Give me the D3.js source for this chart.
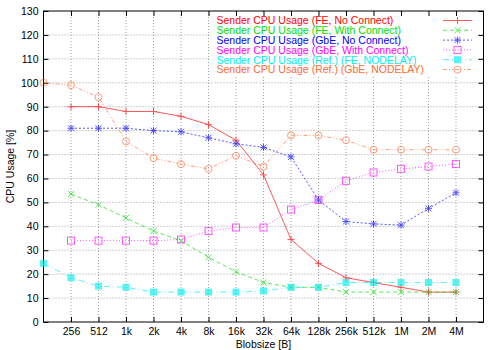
<!DOCTYPE html>
<html lang="en">
<head>
    <meta charset="UTF-8">
    <title>Sender CPU Usage</title>
    <script src="https://cdn.jsdelivr.net/npm/d3@7"></script>
    <style>
        body { margin: 0; background: #fff; }
        text { font-family: Arial, Helvetica, sans-serif; font-size: 10.5px; }
        .grid line { stroke: #a0a0a0; stroke-width: 1; stroke-dasharray: 1,2; }
    </style>
</head>
<body>
<div id="d3"></div>
<script>
    // blob sizes (x) and tick labels
    var blobsizes = [128, 256, 512, 1024, 2048, 4096, 8192, 16384, 32768, 65536,
                     131072, 262144, 524288, 1048576, 2097152, 4194304];
    var tickValues = [256, 512, 1024, 2048, 4096, 8192, 16384, 32768, 65536,
                      131072, 262144, 524288, 1048576, 2097152, 4194304];
    var tickLabels = ["256", "512", "1k", "2k", "4k", "8k", "16k", "32k", "64k",
                      "128k", "256k", "512k", "1M", "2M", "4M"];
    var yTicks = [0, 10, 20, 30, 40, 50, 60, 70, 80, 90, 100, 110, 120, 130];

    // series values (null = no point)
    var feNoConnect    = [null, 90, 90, 88, 88, 86, 82.5, 76, 61.5, 34.5, 24.5, 18.5, 16.5, 14.5, 12.5, 12.5];
    var feWithConnect  = [null, 53.5, 49, 43.5, 38, 34, 27, 21, 16.5, 14.5, 14.5, 12.5, 12.5, 12.5, 12.5, 12.5];
    var gbeNoConnect   = [null, 81, 81, 81, 80, 79.5, 77, 74.5, 73, 69, 51, 42, 41, 40.5, 47.5, 54];
    var gbeWithConnect = [null, 34, 34, 34, 34, 34.5, 38, 39.5, 39.5, 47, 51, 59, 62.5, 64, 65, 66];
    var refFe          = [24.5, 18.5, 15, 14.5, 12.5, 12.5, 12.5, 12.5, 13, 14.5, 14.5, 16.5, 16.5, 16.5, 16.5, 16.5];
    var refGbe         = [100, 99, 94, 75.5, 68.5, 66, 64, 69.5, 65, 78, 78, 76, 72, 72, 72, 72];

    var series = [
        {name: "Sender CPU Usage (FE, No Connect)", values: feNoConnect, color: "#ff0000", dash: null, marker: "plus"},
        {name: "Sender CPU Usage (FE, With Connect)", values: feWithConnect, color: "#00e000", dash: "4,3", marker: "cross"},
        {name: "Sender CPU Usage (GbE, No Connect)", values: gbeNoConnect, color: "#0000ff", dash: "2,2", marker: "star"},
        {name: "Sender CPU Usage (GbE, With Connect)", values: gbeWithConnect, color: "#ff00ff", dash: "1,2", marker: "square"},
        {name: "Sender CPU Usage (Ref.) (FE, NODELAY)", values: refFe, color: "#00eeee", dash: "6,3,1,3", marker: "fsquare"},
        {name: "Sender CPU Usage (Ref.) (GbE, NODELAY)", values: refGbe, color: "#ff6a30", dash: "4,2,1,2,1,2", marker: "circle"}
    ];

    var width = 500, height = 350;
    var pLeft = 43.5, pRight = 483.5, pTop = 11, pBottom = 322;

    var x = d3.scaleLog().base(2).domain([128, 8388608]).range([pLeft, pRight]);
    var y = d3.scaleLinear().domain([0, 130]).range([pBottom, pTop]);

    var svg = d3.select("#d3").append("svg")
        .attr("width", width).attr("height", height);

    // grid
    var grid = svg.append("g").attr("class", "grid");
    grid.selectAll(".gy").data(yTicks.slice(1, -1)).enter().append("line")
        .attr("x1", pLeft).attr("x2", pRight)
        .attr("y1", function (d) { return y(d); }).attr("y2", function (d) { return y(d); });
    grid.selectAll(".gx").data(tickValues).enter().append("line")
        .attr("y1", pTop).attr("y2", pBottom)
        .attr("x1", function (d) { return x(d); }).attr("x2", function (d) { return x(d); });

    // legend background hides grid
    svg.append("rect").attr("x", 210).attr("y", pTop + 1).attr("width", 266).attr("height", 63).attr("fill", "#fff");

    // axes (ticks inside, mirrored)
    var axB = d3.axisBottom(x).tickValues(tickValues).tickSizeInner(-5).tickSizeOuter(0).tickPadding(6)
        .tickFormat(function (d, i) { return tickLabels[i]; });
    var axT = d3.axisTop(x).tickValues(tickValues).tickSizeInner(-5).tickSizeOuter(0).tickFormat("");
    var axL = d3.axisLeft(y).tickValues(yTicks).tickSizeInner(-5).tickSizeOuter(0).tickPadding(5);
    var axR = d3.axisRight(y).tickValues(yTicks).tickSizeInner(-5).tickSizeOuter(0).tickFormat("");

    [[axB, "translate(0," + pBottom + ")"], [axT, "translate(0," + pTop + ")"],
     [axL, "translate(" + pLeft + ",0)"], [axR, "translate(" + pRight + ",0)"]].forEach(function (a) {
        var g = svg.append("g").attr("transform", a[1]).call(a[0]);
        g.select(".domain").remove();
        g.selectAll("line").attr("stroke", "#000");
        g.selectAll("text").attr("fill", "#000").style("font-size", "10.5px")
            .style("font-family", "Arial, Helvetica, sans-serif");
    });

    svg.append("rect").attr("x", pLeft).attr("y", pTop).attr("width", pRight - pLeft).attr("height", pBottom - pTop)
        .attr("fill", "none").attr("stroke", "#000").attr("stroke-width", 1);

    svg.append("text").attr("x", (pLeft + pRight) / 2).attr("y", 348).attr("text-anchor", "middle").text("Blobsize [B]");
    svg.append("text").attr("transform", "translate(14," + ((pTop + pBottom) / 2) + ") rotate(-90)")
        .attr("text-anchor", "middle").text("CPU Usage [%]");

    // marker drawing
    function marker(g, type, cx, cy, color) {
        if (type === "plus") {
            g.append("path").attr("d", "M" + (cx - 3.5) + "," + cy + "H" + (cx + 3.5) + "M" + cx + "," + (cy - 3.5) + "V" + (cy + 3.5))
                .attr("stroke", color).attr("fill", "none");
        } else if (type === "cross") {
            g.append("path").attr("d", "M" + (cx - 3) + "," + (cy - 3) + "L" + (cx + 3) + "," + (cy + 3) +
                "M" + (cx - 3) + "," + (cy + 3) + "L" + (cx + 3) + "," + (cy - 3))
                .attr("stroke", color).attr("fill", "none");
        } else if (type === "star") {
            g.append("path").attr("d", "M" + (cx - 3) + "," + (cy - 3) + "L" + (cx + 3) + "," + (cy + 3) +
                "M" + (cx - 3) + "," + (cy + 3) + "L" + (cx + 3) + "," + (cy - 3) +
                "M" + (cx - 3.5) + "," + cy + "H" + (cx + 3.5) + "M" + cx + "," + (cy - 3.5) + "V" + (cy + 3.5))
                .attr("stroke", color).attr("fill", "none");
        } else if (type === "square") {
            g.append("rect").attr("x", cx - 3.5).attr("y", cy - 3.5).attr("width", 7).attr("height", 7)
                .attr("stroke", color).attr("fill", "none");
        } else if (type === "fsquare") {
            g.append("rect").attr("x", cx - 3.5).attr("y", cy - 3.5).attr("width", 7).attr("height", 7)
                .attr("fill", color);
        } else if (type === "circle") {
            g.append("circle").attr("cx", cx).attr("cy", cy).attr("r", 3.5)
                .attr("stroke", color).attr("fill", "none");
        }
    }

    var line = d3.line()
        .defined(function (d) { return d[1] != null; })
        .x(function (d) { return x(d[0]); })
        .y(function (d) { return y(d[1]); });

    series.forEach(function (s, k) {
        var pts = blobsizes.map(function (b, i) { return [b, s.values[i]]; });
        var g = svg.append("g").attr("opacity", 0.65);
        g.append("path").datum(pts).attr("d", line)
            .attr("fill", "none").attr("stroke", s.color).attr("stroke-width", 1)
            .attr("stroke-dasharray", s.dash);
        pts.forEach(function (p) {
            if (p[1] != null) marker(g, s.marker, x(p[0]), y(p[1]), s.color);
        });

        // legend entry
        var ly = 20.5 + k * 9.8;
        svg.append("text").attr("x", 216.5).attr("y", ly + 3.8).attr("fill", s.color).text(s.name);
        var lg = svg.append("g").attr("opacity", 0.65);
        lg.append("line").attr("x1", 443).attr("x2", 472).attr("y1", ly).attr("y2", ly)
            .attr("stroke", s.color).attr("stroke-dasharray", s.dash);
        marker(lg, s.marker, 457.5, ly, s.color);
    });
</script>
</body>
</html>
